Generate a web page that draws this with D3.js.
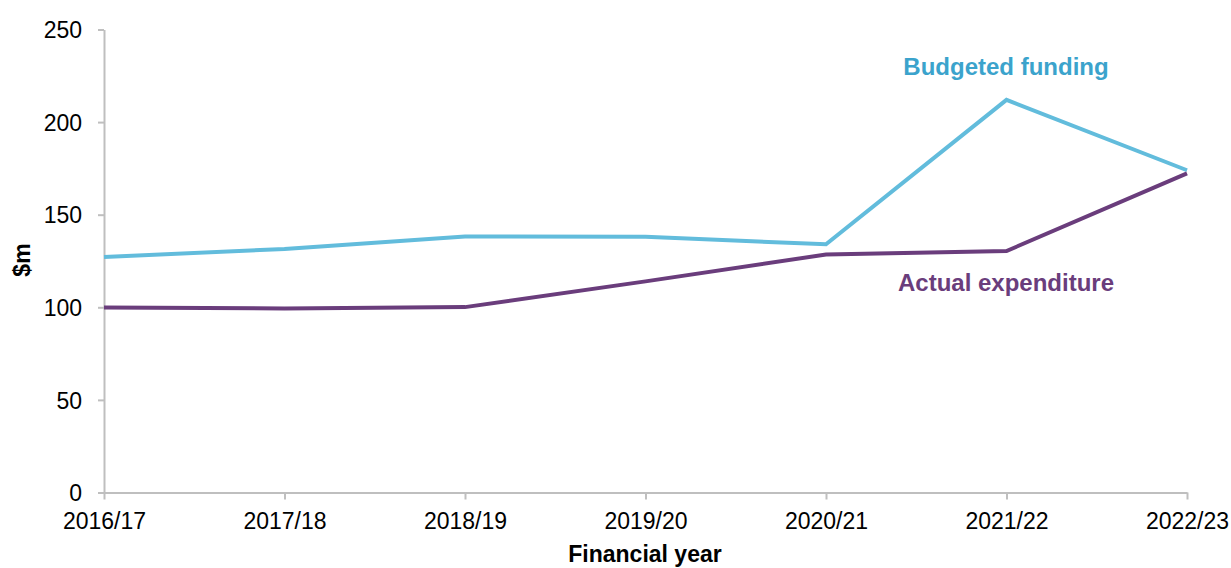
<!DOCTYPE html>
<html>
<head>
<meta charset="utf-8">
<script src="https://cdn.jsdelivr.net/npm/d3@7"></script>
<style>
  body { margin: 0; background: #fff; }
  text { font-family: "Liberation Sans", Arial, sans-serif; }
</style>
</head>
<body>
<svg id="chart" width="1231" height="568"></svg>
<script>
// data
const years = ['2016/17', '2017/18', '2018/19', '2019/20', '2020/21', '2021/22', '2022/23'];
const budgeted = [127.2, 131.5, 138.2, 138.1, 134, 212, 174];
const actual = [99.9, 99.4, 100.1, 114, 128.5, 130.4, 172.3];
const yTicks = [0, 50, 100, 150, 200, 250];

const svg = d3.select('#chart');
const plotL = 104, plotR = 1187, plotT = 29.5, plotB = 492.5;

const x = d3.scalePoint().domain(years).range([plotL, plotR]);
const y = d3.scaleLinear().domain([0, 250]).range([plotB, plotT]);

const axisColor = '#bfbfbf';

// y axis
const yAxis = svg.append('g')
  .attr('transform', `translate(${plotL},0)`)
  .call(d3.axisLeft(y).tickValues(yTicks).tickSize(6).tickSizeOuter(0).tickPadding(16));
yAxis.selectAll('text').attr('font-size', '23px').attr('fill', '#000').attr('dy', '0.36em');

// x axis
const xAxis = svg.append('g')
  .attr('transform', `translate(0,${plotB})`)
  .call(d3.axisBottom(x).tickSize(7).tickSizeOuter(0).tickPadding(13));
xAxis.selectAll('text').attr('font-size', '23px').attr('fill', '#000');

svg.selectAll('.domain').attr('stroke', axisColor).attr('stroke-width', 2);
svg.selectAll('.tick line').attr('stroke', axisColor).attr('stroke-width', 2);
svg.selectAll('.tick text').attr('font-family', '"Liberation Sans", Arial, sans-serif');

// lines
const line = d3.line().x((d, i) => x(years[i])).y(d => y(d));
svg.append('path').datum(budgeted)
  .attr('d', line).attr('fill', 'none')
  .attr('stroke', '#62bcdc').attr('stroke-width', 4).attr('stroke-linejoin', 'miter');
svg.append('path').datum(actual)
  .attr('d', line).attr('fill', 'none')
  .attr('stroke', '#6a3d7c').attr('stroke-width', 4).attr('stroke-linejoin', 'miter');

// series labels
svg.append('text')
  .attr('x', 1006).attr('y', 75)
  .attr('text-anchor', 'middle')
  .attr('font-size', '24px').attr('font-weight', 'bold')
  .attr('fill', '#3ba3cc')
  .text('Budgeted funding');
svg.append('text')
  .attr('x', 1006).attr('y', 291)
  .attr('text-anchor', 'middle')
  .attr('font-size', '24px').attr('font-weight', 'bold')
  .attr('fill', '#6a3d7c')
  .text('Actual expenditure');

// axis titles
svg.append('text')
  .attr('transform', 'translate(30,260) rotate(-90)')
  .attr('text-anchor', 'middle')
  .attr('font-size', '23px').attr('font-weight', 'bold')
  .text('$m');
svg.append('text')
  .attr('x', 645).attr('y', 562)
  .attr('text-anchor', 'middle')
  .attr('font-size', '23px').attr('font-weight', 'bold')
  .text('Financial year');
</script>
</body>
</html>
